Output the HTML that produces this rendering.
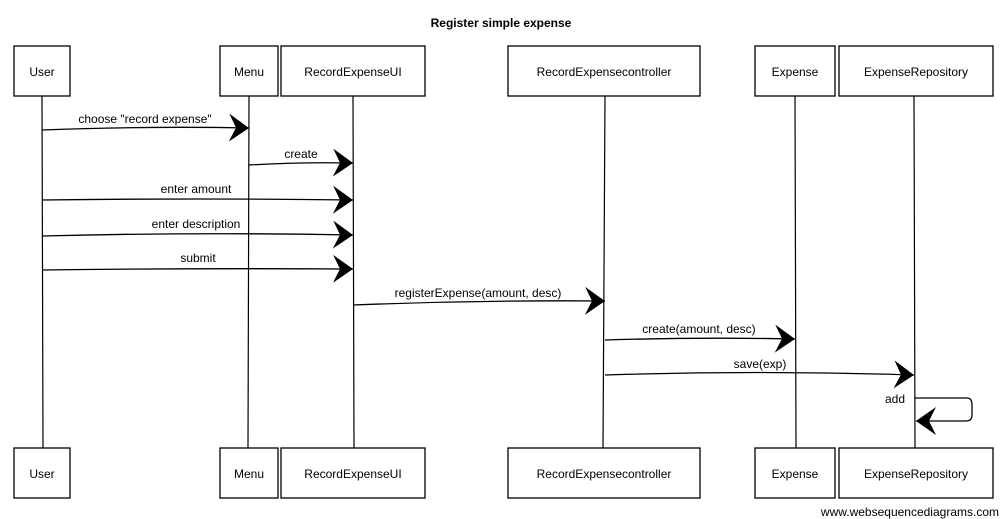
<!DOCTYPE html>
<html><head><meta charset="utf-8"><style>
body{margin:0;background:#fff}
svg{display:block}
text{font-family:"Liberation Sans",sans-serif;font-size:12px;fill:#000}
</style></head><body>
<svg width="1002" height="519" viewBox="0 0 1002 519" xmlns="http://www.w3.org/2000/svg">
<defs>
<marker id="ah" markerWidth="22" markerHeight="32" refX="20" refY="16" orient="auto" markerUnits="userSpaceOnUse">
<path d="M0,2 L20,16 L0,30 L7,16 Z" fill="#000"/>
</marker>
</defs>
<text x="501" y="27" text-anchor="middle" font-size="14" font-weight="bold">Register simple expense</text>
<g stroke="#000" stroke-width="1.2" fill="none">
<line x1="42" y1="96" x2="43" y2="448"/>
<line x1="249" y1="96" x2="248" y2="448"/>
<line x1="353" y1="96" x2="354" y2="448"/>
<line x1="605" y1="96" x2="603" y2="448"/>
<line x1="795" y1="96" x2="796" y2="448"/>
<line x1="914" y1="96" x2="915" y2="448"/>
</g>
<g stroke="#000" stroke-width="1.3" fill="#fff">
<rect x="14" y="46" width="56" height="50"/>
<rect x="220" y="46" width="58" height="50"/>
<rect x="281" y="46" width="144" height="50"/>
<rect x="508" y="46" width="192" height="50"/>
<rect x="755" y="46" width="80" height="50"/>
<rect x="839" y="46" width="154" height="50"/>
<rect x="14" y="448" width="56" height="50"/>
<rect x="220" y="448" width="58" height="50"/>
<rect x="281" y="448" width="144" height="50"/>
<rect x="508" y="448" width="192" height="50"/>
<rect x="755" y="448" width="80" height="50"/>
<rect x="839" y="448" width="154" height="50"/>
</g>
<g text-anchor="middle">
<text x="42" y="76">User</text><text x="249" y="76">Menu</text><text x="353" y="76">RecordExpenseUI</text>
<text x="604" y="76">RecordExpensecontroller</text><text x="795" y="76">Expense</text><text x="916" y="76">ExpenseRepository</text>
<text x="42" y="478">User</text><text x="249" y="478">Menu</text><text x="353" y="478">RecordExpenseUI</text>
<text x="604" y="478">RecordExpensecontroller</text><text x="795" y="478">Expense</text><text x="916" y="478">ExpenseRepository</text>
</g>
<g stroke="#000" stroke-width="1.3" fill="none" marker-end="url(#ah)">
<path d="M42,130 Q150,126 249,128"/>
<path d="M249,165 Q300,162 353,163"/>
<path d="M42,200 Q200,198 353,200"/>
<path d="M42,236 Q200,232 353,235"/>
<path d="M42,270 Q200,268 353,269"/>
<path d="M353,305 Q480,300 605,301"/>
<path d="M605,340 Q700,337 795,339"/>
<path d="M605,375 Q760,370 914,375"/>
<path d="M915,398 L967,398 Q972,398 972,405 L972,415 Q972,421 966,421 L916,421"/>
</g>
<g text-anchor="middle">
<text x="145" y="123">choose "record expense"</text>
<text x="301" y="158">create</text>
<text x="196" y="193">enter amount</text>
<text x="196" y="228">enter description</text>
<text x="198" y="262">submit</text>
<text x="478" y="297">registerExpense(amount, desc)</text>
<text x="699" y="333">create(amount, desc)</text>
<text x="760" y="368">save(exp)</text>
<text x="895" y="403">add</text>
</g>
<text x="999" y="516" text-anchor="end" font-size="14.5" fill="#222">www.websequencediagrams.com</text>
</svg>
</body></html>
